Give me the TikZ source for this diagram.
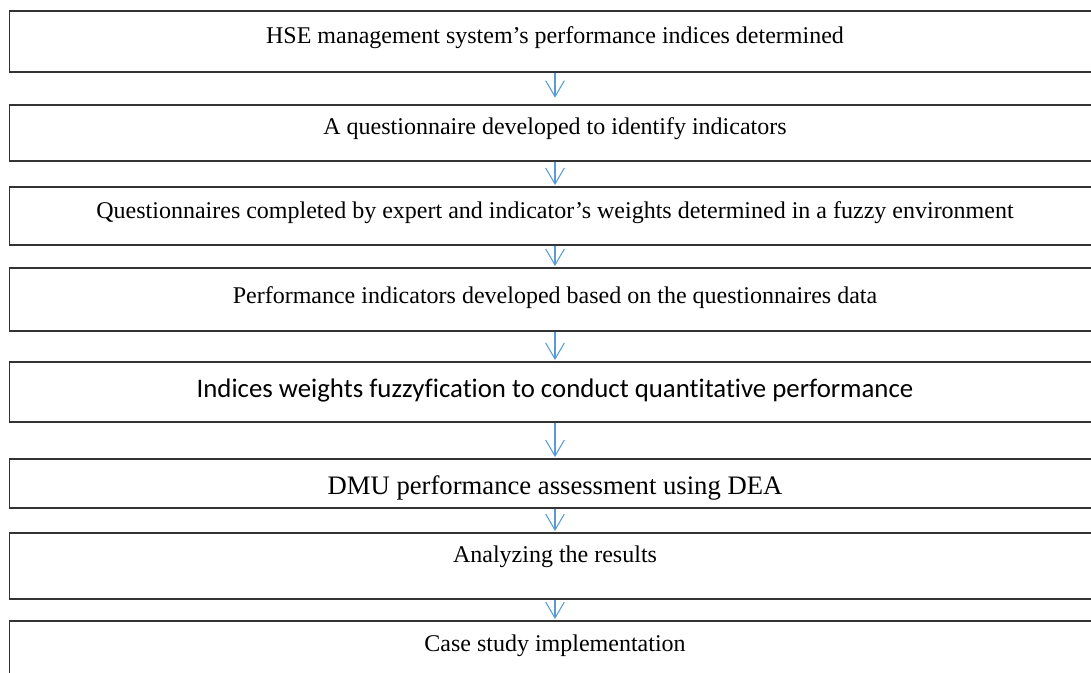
\documentclass[tikz,border=0pt]{standalone}
\usepackage{fontspec}
\setmainfont[Ligatures=NoCommon]{Liberation Serif}
\newfontfamily\calibrifont[Ligatures=NoCommon]{Carlito}
\usetikzlibrary{arrows.meta}

\definecolor{arrowblue}{HTML}{5B9BD5}
\definecolor{boxline}{HTML}{333333}

\tikzset{
  stepbox/.style={draw=boxline, line width=0.9pt, rectangle, minimum width=818.25pt, inner sep=0pt},
  steptext/.style={anchor=base, inner sep=0pt, font=\fontsize{18}{20}\selectfont},
  flow/.style={draw=arrowblue, line width=0.8pt, -{Straight Barb[length=12pt,width=14pt]}}
}

\begin{document}
\begin{tikzpicture}[x=0.75pt, y=-0.75pt]
    \clip (0,0) rectangle (1091,672);

    % Draw Step Boxes
    \node[stepbox, minimum height=45.75pt] (s1) at (555, 41.5) {};
    \node[stepbox, minimum height=42pt]    (s2) at (555, 133)  {};
    \node[stepbox, minimum height=43.5pt]  (s3) at (555, 216)  {};
    \node[stepbox, minimum height=47.25pt] (s4) at (555, 299.5) {};
    \node[stepbox, minimum height=45pt]    (s5) at (555, 392)  {};
    \node[stepbox, minimum height=36.75pt] (s6) at (555, 483.5) {};
    \node[stepbox, minimum height=49.5pt]  (s7) at (555, 566)  {};
    \node[stepbox, minimum height=44.25pt] (s8) at (555, 650.5) {};

    % Step Labels
    \node[steptext] (t1) at (555, 43)  {HSE management system’s performance indices determined};
    \node[steptext] (t2) at (555, 134) {A questionnaire developed to identify indicators};
    \node[steptext] (t3) at (555, 218) {Questionnaires completed by expert and indicator’s weights determined in a fuzzy environment};
    \node[steptext] (t4) at (555, 303) {Performance indicators developed based on the questionnaires data};
    \node[steptext, font=\calibrifont\fontsize{20.1}{22}\selectfont] (t5) at (555, 397) {Indices weights fuzzyfication to conduct quantitative performance};
    \node[steptext, font=\fontsize{20}{22}\selectfont] (t6) at (555, 494) {DMU performance assessment using DEA};
    \node[steptext] (t7) at (555, 562) {Analyzing the results};
    \node[steptext] (t8) at (555, 651) {Case study implementation};

    % Arrows between steps
    \draw[flow, shorten >=5pt] (s1.south) -- (s2.north);
    \draw[flow, shorten >=1pt] (s2.south) -- (s3.north);
    \draw[flow, shorten >=1pt] (s3.south) -- (s4.north);
    \draw[flow, shorten >=1pt] (s4.south) -- (s5.north);
    \draw[flow, shorten >=1pt] (s5.south) -- (s6.north);
    \draw[flow, shorten >=1pt] (s6.south) -- (s7.north);
    \draw[flow, shorten >=1pt] (s7.south) -- (s8.north);
\end{tikzpicture}
\end{document}
